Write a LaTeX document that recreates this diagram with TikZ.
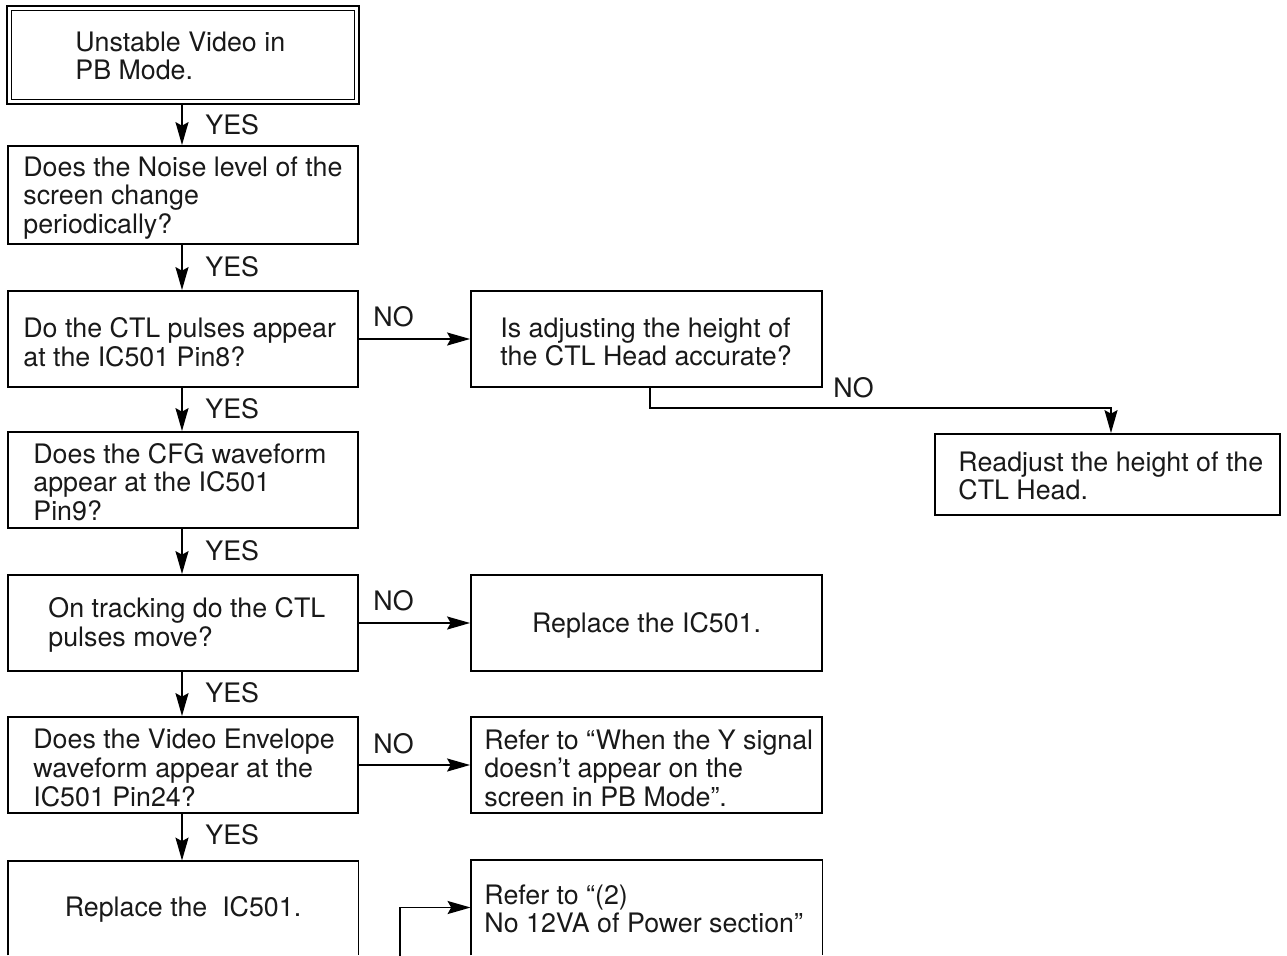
\documentclass[tikz,border=0pt]{standalone}
\usepackage{fontspec}
\setmainfont{TeX Gyre Heros}
\usetikzlibrary{arrows.meta}
\begin{document}
\begin{tikzpicture}[x=0.5pt,y=-0.5pt,
  box/.style={draw=black,line width=0.9pt,minimum height=#1*0.5pt,inner sep=0pt},
  box/.default=96,
  obox/.style={minimum height=#1*0.5pt,inner sep=0pt},
  txt/.style={font=\fontsize{13.4}{14.3}\selectfont,align=left,inner sep=0pt,text=black!90},
  lbl/.style={font=\fontsize{13.4}{14.3}\selectfont,inner sep=0pt,text=black!90},
  arr/.style={line width=0.9pt,-{Stealth[length=11.5pt,width=6.5pt,inset=1.8pt]}},
  ln/.style={line width=0.9pt}]
\useasboundingbox (0,0) rectangle (1287,955);
\clip (0,0) rectangle (1287,955);
% left column boxes
\node[box=96,draw=none,minimum width=175pt] (b1) at (183,55) {};
\draw[line width=1pt] (b1.north west) rectangle (b1.south east);
\draw[line width=0.5pt] ([shift={(4,4)}]b1.north west) rectangle ([shift={(-4,-4)}]b1.south east);
\node[box=98,minimum width=175pt] (b2) at (183,195) {};
\node[box=96,minimum width=175pt] (b3) at (183,339) {};
\node[box=96,minimum width=175.5pt] (b4) at (646.5,339) {};
\node[box=81,minimum width=172.5pt] (b5) at (1107.5,474.5) {};
\node[box=96,minimum width=175pt] (b6) at (183,480) {};
\node[box=96,minimum width=175pt] (b7) at (183,623) {};
\node[box=96,minimum width=175.5pt] (b8) at (646.5,623) {};
\node[box=96,minimum width=175pt] (b9) at (183,765) {};
\node[box=96,minimum width=175.5pt] (b10) at (646.5,765) {};
\node[obox=94,minimum width=175pt] (b11) at (183,908) {};
\node[obox=95,minimum width=175.5pt] (b12) at (646.5,907.5) {};
\draw[ln] (b11.south west) -- (b11.north west) -- (b11.north east) -- (b11.south east);
\draw[ln] (b12.south west) -- (b12.north west) -- (b12.north east) -- (b12.south east);
% texts
\node[txt,anchor=west] (t1) at (75,56) {Unstable Video in\\PB Mode.};
\node[txt,anchor=west] (t2) at (23,198) {Does the Noise level of the\\screen change\\periodically?};
\node[txt,anchor=west] (t3) at (23,342) {Do the CTL pulses appear\\at the IC501 Pin8?};
\node[txt,anchor=west] (t4) at (500,342) {Is adjusting the height of\\the CTL Head accurate?};
\node[txt,anchor=west] (t5) at (958,476) {Readjust the height of the\\CTL Head.};
\node[txt,anchor=west] (t6) at (33,482) {Does the CFG waveform\\appear at the IC501\\Pin9?};
\node[txt,anchor=west] (t7) at (48,625) {On tracking do the CTL\\pulses move?};
\node[txt] (t8) at (646.5,625) {Replace the IC501.};
\node[txt,anchor=west] (t9) at (33,768) {Does the Video Envelope\\waveform appear at the\\IC501 Pin24?};
\node[txt,anchor=west] (t10) at (484,768) {Refer to “When the Y signal\\doesn’t appear on the\\screen in PB Mode”.};
\node[txt] (t11) at (183,909) {Replace the \ IC501.};
\node[txt,anchor=west] (t12) at (484,909) {Refer to “(2)\\No 12VA of Power section”};
% vertical YES arrows
\draw[arr] (b1.south -| 182,0) -- (b2.north -| 182,0);
\draw[arr] (b2.south -| 182,0) -- (b3.north -| 182,0);
\draw[arr] (b3.south -| 182,0) -- (b6.north -| 182,0);
\draw[arr] (b6.south -| 182,0) -- (b7.north -| 182,0);
\draw[arr] (b7.south -| 182,0) -- (b9.north -| 182,0);
\draw[arr] (b9.south -| 182,0) -- (b11.north -| 182,0);
\node[lbl,anchor=west] (y1) at (205,125) {YES};
\node[lbl,anchor=west] (y2) at (205,267) {YES};
\node[lbl,anchor=west] (y3) at (205,409) {YES};
\node[lbl,anchor=west] (y4) at (205,551) {YES};
\node[lbl,anchor=west] (y5) at (205,693) {YES};
\node[lbl,anchor=west] (y6) at (205,835) {YES};
% NO arrows
\draw[arr] (b3.east) -- (b4.west);
\draw[arr] (b7.east) -- (b8.west);
\draw[arr] (b9.east) -- (b10.west);
\node[lbl,anchor=west] (n1) at (373,317) {NO};
\node[lbl,anchor=west] (n2) at (373,601) {NO};
\node[lbl,anchor=west] (n3) at (373,744) {NO};
\draw[arr] ([xshift=1.75pt]b4.south) -- ++(0,20) -| ([xshift=1.75pt]b5.north);
\node[lbl,anchor=west] (n4) at (833,388) {NO};
% bottom connector
\coordinate (c0) at (400,962);
\draw[arr] (c0) |- (b12.west);
\end{tikzpicture}
\end{document}
